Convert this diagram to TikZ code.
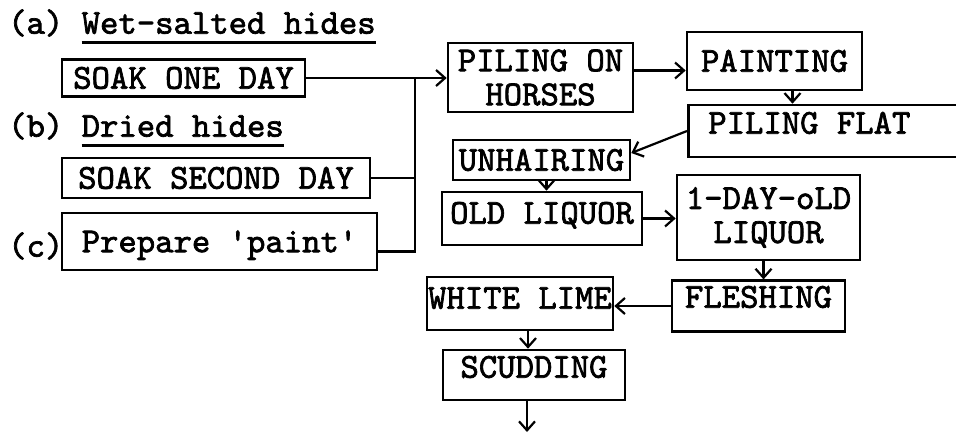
\documentclass[tikz,border=0pt]{standalone}
\usepackage{fontspec}
\newfontfamily\typew{lmmono10-regular.otf}[FakeBold=2]
\usetikzlibrary{arrows.meta}
\newcommand{\undl}[1]{\setbox0\hbox{#1}\rlap{\rule[-10pt]{\wd0}{2.4pt}}\box0}

\begin{document}
\begin{tikzpicture}[
    x=1pt, y=-1pt,
    box/.style={draw, line width=2.6pt, inner sep=0pt, align=center, font=\typew\fontsize{35}{34}\selectfont},
    single/.style={text height=27pt, text depth=#1},
    single/.default=5.6pt,
    hdr/.style={inner sep=0pt, anchor=west, font=\typew\fontsize{35}{34}\selectfont, text height=27pt, text depth=5.6pt},
    link/.style={line width=2.2pt},
    arrow/.style={-{Straight Barb[length=9pt,width=16pt]}, line width=2.2pt},
]
    \useasboundingbox (0,0) rectangle (956,433);

    % Raw hides
    \node[hdr] (wet) at (8,23) {(a) \undl{Wet-salted hides}};
    \node[hdr] (dried) at (8,126) {(b) \undl{Dried hides}};
    \node[hdr] (prep) at (8,246) {(c)};
    \node[box, single, minimum width=243pt, minimum height=37pt] (soakone) at (183.5,78) {SOAK ONE DAY};
    \node[box, single, minimum width=308pt, minimum height=40pt] (soaksecond) at (216,178) {SOAK SECOND DAY};
    \node[box, single, minimum width=315pt, minimum height=57pt] (paint) at (219.5,241.5) {Prepare 'paint'};

    % Process
    \node[box, minimum width=185pt, minimum height=69pt] (pilingon) at (540.5,77.5) {PILING ON\\HORSES};
    \node[box, single, minimum width=175pt, minimum height=58pt] (painting) at (774.5,61) {PAINTING};
    \node[box, single=21.6pt, anchor=west, inner xsep=20pt, minimum height=52pt] (pilingflat) at (687,131) {PILING FLAT\hspace*{73pt}};
    \node[box, single, minimum width=177pt, minimum height=40pt] (unhairing) at (541.5,160) {UNHAIRING};
    \node[box, single=16.6pt, minimum width=200pt, minimum height=53pt] (oldliquor) at (542,218.5) {OLD LIQUOR};
    \node[box, minimum width=183pt, minimum height=85pt] (oneday) at (768.5,217.5) {1-DAY-oLD\\LIQUOR};
    \node[box, single=23.6pt, minimum width=173pt, minimum height=48pt] (fleshing) at (758.5,306) {FLESHING};
    \node[box, single=16.6pt, minimum width=186pt, minimum height=53pt] (whitelime) at (520,303.5) {WHITE LIME};
    \node[box, single=21.6pt, minimum width=182pt, minimum height=50pt] (scudding) at (534,375) {SCUDDING};
    \coordinate (bus) at (415,78);
    \coordinate (out) at (527,432);

    % Connectors
    \draw[arrow] (soakone.east) -- (soakone.east -| pilingon.west);
    \draw[link] (soaksecond.east) -- (soaksecond.east -| bus);
    \draw[link] ([yshift=-10pt]paint.east) -| (bus);
    \draw[arrow] ([yshift=7pt]pilingon.east) -- ([yshift=7pt]pilingon.east -| painting.west);
    \draw[arrow] ([xshift=18pt]painting.south) -- ([xshift=18pt]painting.south |- pilingflat.north);
    \draw[arrow] (pilingflat.west) -- ([yshift=7pt]unhairing.east);
    \draw[arrow] ([xshift=5pt]unhairing.south) -- ([xshift=5pt]unhairing.south |- oldliquor.north);
    \draw[arrow] (oldliquor.east) -- (oldliquor.east -| oneday.west);
    \draw[arrow] ([xshift=-5pt]oneday.south) -- ([xshift=-5pt]oneday.south |- fleshing.north);
    \draw[arrow] (fleshing.west) -- (fleshing.west -| whitelime.east);
    \draw[arrow] ([xshift=8pt]whitelime.south) -- ([xshift=8pt]whitelime.south |- scudding.north);
    \draw[arrow] (scudding.south -| out) -- (out);
\end{tikzpicture}
\end{document}
